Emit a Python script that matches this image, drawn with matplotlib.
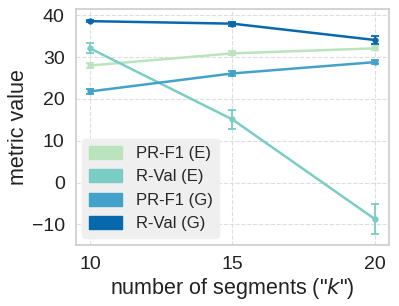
import matplotlib
matplotlib.use("Agg")
import matplotlib.pyplot as plt
import seaborn as sns
from matplotlib.patches import Patch

sns.set_theme(style="whitegrid")
plt.rcParams['font.family'] = ['Liberation Sans', 'DejaVu Sans']

k = [10, 15, 20]
series_names = ["PR-F1 (E)", "R-Val (E)", "PR-F1 (G)", "R-Val (G)"]
pr_f1_e = [28.0, 30.9, 32.1]
pr_f1_e_err = [0.5, 0.5, 0.5]
r_val_e = [32.1, 15.1, -8.7]
r_val_e_err = [1.2, 2.3, 3.6]
pr_f1_g = [21.8, 26.1, 28.8]
pr_f1_g_err = [0.5, 0.5, 0.5]
r_val_g = [38.6, 38.0, 34.1]
r_val_g_err = [0.3, 0.5, 1.0]
colors = ["#bae4bc", "#7bccc4", "#43a2ca", "#0868ac"]

values = [pr_f1_e, r_val_e, pr_f1_g, r_val_g]
errs = [pr_f1_e_err, r_val_e_err, pr_f1_g_err, r_val_g_err]

fig, ax = plt.subplots(figsize=(3.99, 3.06), dpi=100)
for v, e, c in zip(values, errs, colors):
    ax.errorbar(k, v, yerr=e, color=c, marker='o', markersize=3.5, linewidth=1.8,
                capsize=3, elinewidth=1.3, capthick=1.3)

ax.grid(True, linestyle='--', color='#dddddd', linewidth=0.8)
for s in ax.spines.values():
    s.set_color('#cccccc')
    s.set_linewidth(1.2)
ax.set_xticks(k)
ax.tick_params(labelsize=14, pad=2, colors='#222222')
ax.set_xlabel('number of segments ("$k$")', fontsize=15.5, color='#222222', labelpad=2)
ax.set_ylabel('metric value', fontsize=15.5, color='#222222', labelpad=2)

handles = [Patch(facecolor=c, edgecolor=c, label=n) for n, c in zip(series_names, colors)]
leg = ax.legend(handles=handles, loc='lower left', fontsize=12, frameon=True,
                facecolor='#efefef', edgecolor='#efefef', framealpha=1.0,
                handlelength=2.0, handleheight=0.8, borderaxespad=0.4)

fig.subplots_adjust(left=0.19, right=0.975, top=0.97, bottom=0.2)
fig.savefig("out.png", dpi=100)
